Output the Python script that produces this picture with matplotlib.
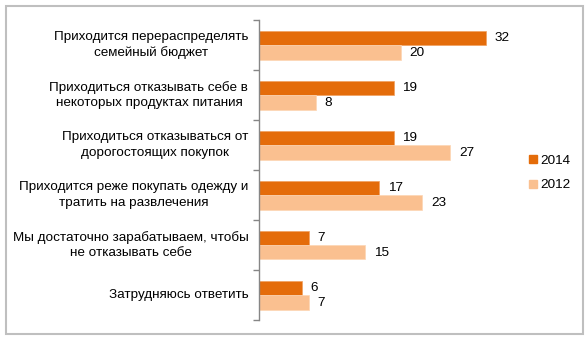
import matplotlib
matplotlib.use("Agg")
import matplotlib.pyplot as plt
from matplotlib.patches import Rectangle
from matplotlib.lines import Line2D
import numpy as np

categories = [
    "Приходится перераспределять\nсемейный бюджет",
    "Приходиться отказывать себе в\nнекоторых продуктах питания",
    "Приходиться отказываться от\nдорогостоящих покупок",
    "Приходится реже покупать одежду и\nтратить на развлечения",
    "Мы достаточно зарабатываем, чтобы\nне отказывать себе",
    "Затрудняюсь ответить",
]
series_names = ["2014", "2012"]
values_2014 = [32, 19, 19, 17, 7, 6]
values_2012 = [20, 8, 27, 23, 15, 7]

c2014 = "#E46C0A"
c2012 = "#FAC090"

plt.rcParams['font.family'] = ['Liberation Sans', 'DejaVu Sans']

W, H = 588, 341
fig = plt.figure(figsize=(W / 100, H / 100), dpi=100)

# outer border
fig.patches.append(Rectangle((5.5 / W, 1 - 334 / H), 577 / W, 328 / H,
                             transform=fig.transFigure, fill=False,
                             edgecolor="#BFBFBF", linewidth=1.5))

ax = fig.add_axes([259 / W, 1 - 320 / H, (507 - 259) / W, 300 / H])
n = len(categories)
y = np.arange(n)
h = 0.29
ax.barh(y - h / 2, values_2014, height=h, color=c2014, edgecolor="#F0A060", linewidth=0.5, label=series_names[0])
ax.barh(y + h / 2, values_2012, height=h, color=c2012, edgecolor="#FCD5B4", linewidth=0.5, label=series_names[1])
ax.set_xlim(0, 35)
ax.set_ylim(n - 0.5, -0.5)

fs = 9.7
for i in range(n):
    ax.text(values_2014[i] + 1.25, y[i] - h / 2, str(values_2014[i]), va="center", ha="left", fontsize=fs)
    ax.text(values_2012[i] + 1.25, y[i] + h / 2 + 0.02, str(values_2012[i]), va="center", ha="left", fontsize=fs)
    ax.text(-1.5, y[i], categories[i], va="center", ha="right", multialignment="center",
            fontsize=fs, linespacing=1.4)

ax.set_yticks(np.arange(-0.5, n, 1))
ax.set_yticklabels([])
ax.set_xticks([])
ax.tick_params(axis="y", direction="out", length=4, color="#868686", width=1)
for s in ["top", "right", "bottom"]:
    ax.spines[s].set_visible(False)
ax.spines["left"].set_color("#868686")
ax.spines["left"].set_linewidth(1)

# legend
handles = [Line2D([], [], marker="s", linestyle="none", markersize=5.5, color=c2014, label="2014"),
           Line2D([], [], marker="s", linestyle="none", markersize=5.5, color=c2012, label="2012")]
fig.legend(handles=handles, loc="center left", bbox_to_anchor=(522 / W, 1 - 173 / H),
           frameon=False, fontsize=fs, handlelength=0.6, handletextpad=0.25, labelspacing=0.9,
           borderpad=0)

fig.savefig("out.png", dpi=100)
